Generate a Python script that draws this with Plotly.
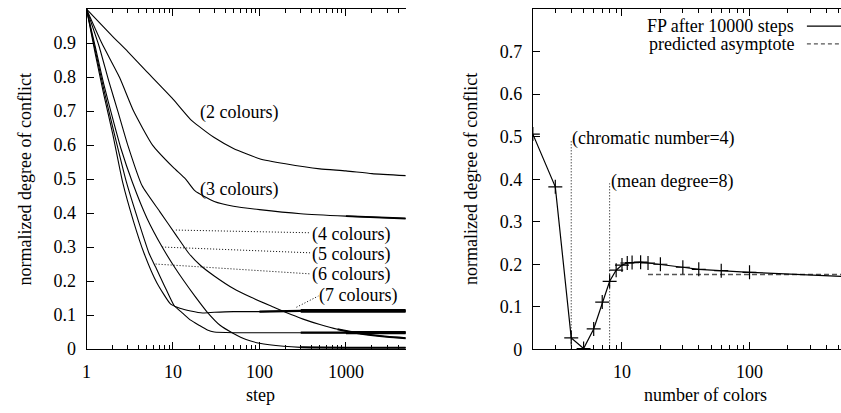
import math
import plotly.graph_objects as go

# ---------------- data ----------------
# left panel: normalized degree of conflict vs step
c2_x = [1, 2, 3, 5, 10, 16, 20, 30, 50, 100, 200, 500, 1000, 2000, 5000]
c2_y = [1, 0.92, 0.875, 0.815, 0.735, 0.675, 0.655, 0.622, 0.59, 0.56, 0.545, 0.53, 0.524, 0.516, 0.51]

c3_x = [1, 1.5, 2.4, 3.5, 5.8, 10, 14, 18, 30, 50, 100, 300, 1000, 5000]
c3_y = [1, 0.9, 0.8, 0.7, 0.6, 0.535, 0.5, 0.465, 0.434, 0.42, 0.41, 0.398, 0.391, 0.384]

c4_x = [1, 1.4, 1.8, 2.3, 3, 4.4, 7, 10.8, 15.3, 21, 30, 50, 80, 140, 200, 320, 500, 800, 1500, 3000, 5000]
c4_y = [1, 0.89, 0.79, 0.7, 0.6, 0.48, 0.405, 0.336, 0.281, 0.245, 0.215, 0.178, 0.152, 0.125, 0.108, 0.088, 0.072, 0.058, 0.045, 0.036, 0.032]

c5_x = [1, 1.26, 1.58, 2, 2.5, 3.4, 5, 7.5, 10, 13.4, 18, 25, 35, 50, 70, 100, 190, 300, 1000, 5000]
c5_y = [1, 0.89, 0.78, 0.68, 0.59, 0.49, 0.385, 0.30, 0.248, 0.2, 0.155, 0.108, 0.07, 0.046, 0.028, 0.017, 0.008, 0.005, 0.004, 0.004]

c6_x = [1, 1.26, 1.58, 2, 2.9, 4, 5.3, 6.3, 8, 10.3, 13, 16, 20, 25, 30, 50, 100, 300, 1000, 5000]
c6_y = [1, 0.88, 0.765, 0.655, 0.49, 0.375, 0.281, 0.241, 0.185, 0.128, 0.105, 0.085, 0.07, 0.056, 0.05, 0.048, 0.048, 0.048, 0.048, 0.048]

c7_x = [1, 1.26, 1.58, 2, 2.62, 3.5, 4.64, 6.5, 9.4, 12, 16, 22, 30, 50, 100, 300, 1000, 5000]
c7_y = [1, 0.87, 0.75, 0.635, 0.49, 0.375, 0.281, 0.195, 0.132, 0.12, 0.112, 0.106, 0.108, 0.11, 0.11, 0.112, 0.112, 0.112]

curve_labels = ["(2 colours)", "(3 colours)", "(4 colours)", "(5 colours)", "(6 colours)", "(7 colours)"]
label_x = [20, 20, 396, 396, 396, 480]
label_y = [0.697, 0.47, 0.336, 0.279, 0.218, 0.158]

# dotted pointers from labels to curves
p4_x, p4_y = [10.8, 392], [0.35, 0.342]
p5_x, p5_y = [7.5, 392], [0.30, 0.283]
p6_x, p6_y = [6.3, 392], [0.25, 0.221]
p7_x, p7_y = [268, 480], [0.123, 0.156]

# right panel: FP after 10000 steps vs number of colors
n_colors = [2, 3, 4, 5, 6, 7, 8, 9, 10, 11, 12, 14, 16, 20, 30, 40, 60, 100, 1000]
fp_value = [0.506, 0.382, 0.027, 0.002, 0.048, 0.111, 0.16, 0.186, 0.198, 0.203, 0.204, 0.205, 0.203, 0.2, 0.193, 0.188, 0.185, 0.181, 0.168]
asym_x = [16, 1000]
asym_y = [0.176, 0.176]

chrom_x, chrom_y = [4, 4], [0, 0.49]
meandeg_x, meandeg_y = [8, 8], [0, 0.39]

# ---------------- figure ----------------
W, H = 841, 413
FONT = "Liberation Serif, Times New Roman, serif"
fig = go.Figure()

def px(x):
    return x / W

def py(y):
    return 1 - y / H

for xs, ys in [(c2_x, c2_y), (c3_x, c3_y), (c4_x, c4_y), (c5_x, c5_y), (c6_x, c6_y), (c7_x, c7_y)]:
    fig.add_trace(go.Scatter(x=xs, y=ys, mode="lines", line=dict(color="black", width=1.1, shape="spline", smoothing=0.5),
                             xaxis="x", yaxis="y", hoverinfo="skip"))

# noisy tails shown as a thicker band (growing with the step count)
for xs, ys, start, w in [(c7_x, c7_y, 100, 2.2), (c7_x, c7_y, 300, 3.8), (c6_x, c6_y, 300, 2.2),
                         (c6_x, c6_y, 1000, 3.2), (c5_x, c5_y, 300, 2.0),
                         (c3_x, c3_y, 500, 1.8), (c4_x, c4_y, 800, 2.0)]:
    tx = [a for a in xs if a >= start]
    ty = [b for a, b in zip(xs, ys) if a >= start]
    fig.add_trace(go.Scatter(x=tx, y=ty, mode="lines", line=dict(color="black", width=w, shape="spline", smoothing=0.5),
                             xaxis="x", yaxis="y", hoverinfo="skip"))

for xs, ys in [(p4_x, p4_y), (p5_x, p5_y), (p6_x, p6_y), (p7_x, p7_y)]:
    fig.add_trace(go.Scatter(x=xs, y=ys, mode="lines", line=dict(color="black", width=1, dash="1px,2px"),
                             xaxis="x", yaxis="y", hoverinfo="skip"))

# right panel
fig.add_trace(go.Scatter(x=chrom_x, y=chrom_y, mode="lines", line=dict(color="black", width=1, dash="1px,2px"),
                         xaxis="x2", yaxis="y2", hoverinfo="skip"))
fig.add_trace(go.Scatter(x=meandeg_x, y=meandeg_y, mode="lines", line=dict(color="black", width=1, dash="1px,2px"),
                         xaxis="x2", yaxis="y2", hoverinfo="skip"))
fig.add_trace(go.Scatter(x=asym_x, y=asym_y, mode="lines", line=dict(color="#555555", width=1.5, dash="5px,3px"),
                         xaxis="x2", yaxis="y2", hoverinfo="skip"))
fig.add_trace(go.Scatter(x=n_colors, y=fp_value, mode="lines+markers", line=dict(color="black", width=1.2),
                         marker=dict(symbol="cross-thin", size=10, line=dict(color="black", width=1.2)),
                         xaxis="x2", yaxis="y2", hoverinfo="skip"))

minor_vals = [m * 10 ** k for k in range(4) for m in range(2, 10)]

axis_common = dict(showline=True, linecolor="black", linewidth=1, showgrid=False, zeroline=False,
                   ticks="inside", tickcolor="black", ticklen=7, tickwidth=1,
                   tickfont=dict(family=FONT, size=18, color="black"))

fig.update_layout(
    width=W, height=H,
    margin=dict(l=0, r=0, t=0, b=0),
    paper_bgcolor="white", plot_bgcolor="white",
    showlegend=False,
    font=dict(family=FONT, size=18, color="black"),
    xaxis=dict(domain=[px(82), px(403)], type="log", range=[0, 3.69], anchor="y",
               tickmode="array", tickvals=[1, 10, 100, 1000], ticktext=["1", "10", "100", "1000"],
               mirror="allticks", ticklabelstandoff=6,
               minor=dict(ticks="inside", ticklen=4, tickcolor="black", tickmode="array", tickvals=minor_vals),
               **axis_common),
    yaxis=dict(domain=[py(357.7), py(9.3)], range=[0, 1], anchor="x",
               tickmode="array", tickvals=[0, 0.1, 0.2, 0.3, 0.4, 0.5, 0.6, 0.7, 0.8, 0.9, 1],
               ticktext=["0", "0.1", "0.2", "0.3", "0.4", "0.5", "0.6", "0.7", "0.8", "0.9", "1"],
               ticklabelstandoff=6, **axis_common),
    xaxis2=dict(domain=[px(531), 1], type="log", range=[math.log10(2), math.log10(2) + 310 / 128.3], anchor="y2",
                tickmode="array", tickvals=[10, 100, 1000], ticktext=["10", "100", "1000"],
                mirror="allticks", ticklabelstandoff=6,
                minor=dict(ticks="inside", ticklen=4, tickcolor="black", tickmode="array", tickvals=minor_vals),
                **axis_common),
    yaxis2=dict(domain=[py(358), py(9.3)], range=[0, 0.8], anchor="x2",
                tickmode="array", tickvals=[0, 0.1, 0.2, 0.3, 0.4, 0.5, 0.6, 0.7, 0.8],
                ticktext=["0", "0.1", "0.2", "0.3", "0.4", "0.5", "0.6", "0.7", "0.8"],
                ticklabelstandoff=6, **axis_common),
)

TXT = dict(family=FONT, size=18, color="black")
ann = []
for t, lx, ly in zip(curve_labels, label_x, label_y):
    ann.append(dict(text=t, x=math.log10(lx), y=ly, xref="x", yref="y", xanchor="left", yanchor="middle",
                    showarrow=False, borderpad=0, font=TXT))
ann.append(dict(text="(chromatic number=4)", x=math.log10(4), y=0.495, xref="x2", yref="y2", xanchor="left",
                yanchor="middle", showarrow=False, borderpad=0, font=TXT))
ann.append(dict(text="(mean degree=8)", x=math.log10(8), y=0.395, xref="x2", yref="y2", xanchor="left",
                yanchor="middle", showarrow=False, borderpad=0, font=TXT))
# axis titles
ann.append(dict(text="step", x=px(256.7), y=py(405), xref="paper", yref="paper", xanchor="center", yanchor="middle",
                showarrow=False, font=TXT))
ann.append(dict(text="number of colors", x=px(704.7), y=py(405), xref="paper", yref="paper", xanchor="center",
                yanchor="middle", showarrow=False, font=TXT))
ann.append(dict(text="normalized degree of conflict", x=px(20), y=py(184), xref="paper", yref="paper",
                xanchor="center", yanchor="middle", textangle=-90, showarrow=False, font=TXT))
ann.append(dict(text="normalized degree of conflict", x=px(468.3), y=py(184), xref="paper", yref="paper",
                xanchor="center", yanchor="middle", textangle=-90, showarrow=False, font=TXT))
# key
ann.append(dict(text="FP after 10000 steps", x=px(795), y=py(26.7), xref="paper", yref="paper", xanchor="right",
                yanchor="middle", showarrow=False, borderpad=0, font=TXT))
ann.append(dict(text="predicted asymptote", x=px(795), y=py(45), xref="paper", yref="paper", xanchor="right",
                yanchor="middle", showarrow=False, borderpad=0, font=TXT))
fig.update_layout(annotations=ann)

fig.add_shape(type="line", xref="paper", yref="paper", x0=px(806.7), x1=1.02, y0=py(26.7), y1=py(26.7),
              line=dict(color="black", width=1.2))
fig.add_shape(type="line", xref="paper", yref="paper", x0=px(806.7), x1=1.02, y0=py(45), y1=py(45),
              line=dict(color="#555555", width=1.2, dash="4px,3px"))

fig.write_html("out.html", config={"displayModeBar": False, "staticPlot": True},
               post_script="document.body.style.margin='0';document.body.style.padding='0';"
                           "document.body.style.overflow='hidden';")
